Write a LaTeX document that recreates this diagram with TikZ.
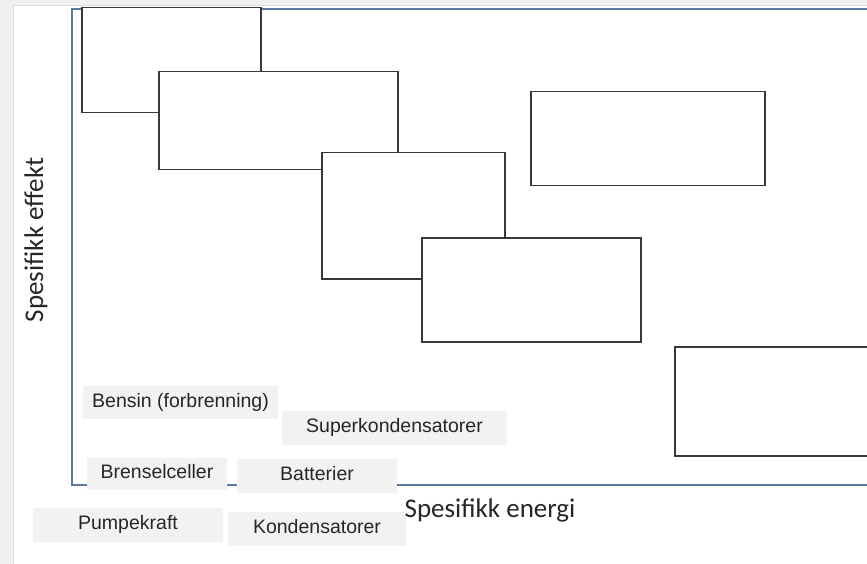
\documentclass[tikz,border=0pt]{standalone}
\usepackage{fontspec}
\setmainfont{Liberation Sans}
\newfontfamily\calibfont{Carlito}
\definecolor{bgout}{HTML}{F0F0F0}
\definecolor{panelline}{HTML}{DCDCDC}
\definecolor{axisblue}{HTML}{5A7AA3}
\definecolor{boxline}{HTML}{383838}
\definecolor{lblfill}{HTML}{F2F2F2}
\definecolor{lbltext}{HTML}{262626}
\tikzset{
  databox/.style={draw=boxline, fill=white, line width=1.5pt, rectangle, anchor=north west, inner sep=0pt},
  lbl/.style={fill=lblfill, rectangle, inner sep=0pt, text=lbltext,
    font=\fontsize{19.5}{22}\selectfont, text height=13pt, text depth=4pt},
  axisline/.style={draw=axisblue, line width=2.2pt},
  axislbl/.style={font=\calibfont\fontsize{27}{30}\selectfont, text=lbltext, anchor=base, inner sep=0pt}
}
\begin{document}
\begin{tikzpicture}[x=1pt,y=-1pt]
\useasboundingbox (0,0) rectangle (867,564);
\clip (0,0) rectangle (867,564);
\fill[bgout] (0,0) rectangle (867,564);
\draw[panelline, fill=white, line width=0.8pt] (13,5) rectangle (880,580);
% axis frame
\coordinate (o) at (72,485);
\coordinate (ytop) at (72,9);
\coordinate (tr) at (880,9);
\coordinate (br) at (880,485);
\draw[axisline] (br) -- (o) -- (ytop) -- (tr);
% boxes
\node[databox, minimum width=179pt, minimum height=105pt] (b1) at (81,7) {};
\node[databox, minimum width=239pt, minimum height=98pt] (b2) at (158,71) {};
\node[databox, minimum width=183pt, minimum height=126pt] (b4) at (321,152) {};
\node[databox, minimum width=219pt, minimum height=104pt] (b5) at (421,237) {};
\node[databox, minimum width=234pt, minimum height=94pt] (b3) at (530,91) {};
\node[databox, minimum width=220pt, minimum height=109pt] (b6) at (674,346) {};
% labels
\node[lbl, minimum width=195pt, minimum height=33pt] (l1) at (180.5,402.5) {Bensin (forbrenning)};
\node[lbl, minimum width=225pt, minimum height=34pt] (l2) at (394.5,428) {Superkondensatorer};
\node[lbl, minimum width=140pt, minimum height=32pt] (l3) at (157,474) {Brenselceller};
\node[lbl, minimum width=160pt, minimum height=34pt] (l4) at (317,476) {Batterier};
\node[lbl, minimum width=190pt, minimum height=34pt] (l5) at (128,525) {Pumpekraft};
\node[lbl, minimum width=178pt, minimum height=34pt] (l6) at (317,529) {Kondensatorer};
% axis labels
\node[axislbl] (xl) at (490,517) {Spesifikk energi};
\node[axislbl, rotate=90] (yl) at (43,240) {Spesifikk effekt};
\end{tikzpicture}
\end{document}
